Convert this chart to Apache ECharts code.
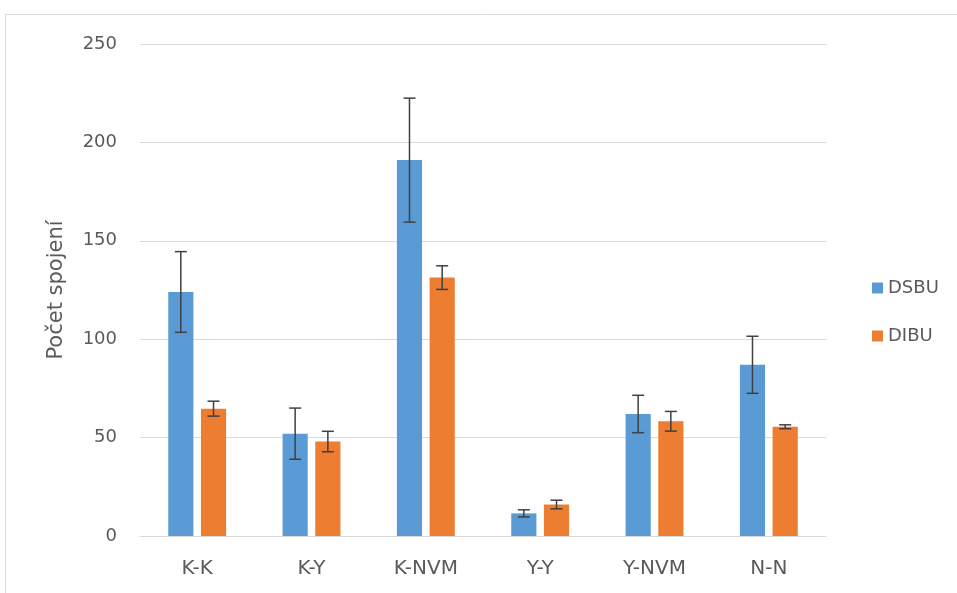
<!DOCTYPE html>
<html>
<head>
<meta charset="utf-8">
<script src="https://cdn.jsdelivr.net/npm/echarts@6/dist/echarts.min.js"></script>
<style>
  html, body { margin: 0; padding: 0; background: #fff; }
  #chart { width: 957px; height: 593px; }
</style>
</head>
<body>
<div id="chart"></div>
<script>
// Connection counts by joint type, mean ± error
const categories = ['K-K', 'K-Y', 'K-NVM', 'Y-Y', 'Y-NVM', 'N-N'];
const dsbuValues = [124, 52, 191, 11.5, 62, 87];
const dsbuErrors = [20.5, 13, 31.5, 1.8, 9.5, 14.5];
const dibuValues = [64.7, 48, 131.3, 16, 58.3, 55.5];
const dibuErrors = [3.8, 5.2, 6, 2.2, 5, 1];
const yTicks = { min: 0, max: 250, interval: 50 };

const BAR_WIDTH = 0.22;   // share of the category band
const BAR_GAP = 0.30;     // gap relative to bar width
const FONT = 'DejaVu Sans, sans-serif';
const TEXT = '#5a5a5a';

function errorSeries(name, values, errors, side) {
  const data = values.map((v, i) => [i, v - errors[i], v + errors[i]]);
  return {
    name: name + ' err',
    type: 'custom',
    z: 5,
    silent: true,
    data: data,
    renderItem: function (params, api) {
      const idx = api.value(0);
      const lo = api.coord([idx, api.value(1)]);
      const hi = api.coord([idx, api.value(2)]);
      const band = api.size([1, 0])[0];
      const bw = band * BAR_WIDTH;
      const x = lo[0] + side * (bw / 2 + bw * BAR_GAP / 2);
      const cap = 6;
      const style = { stroke: '#404040', lineWidth: 1.5 };
      return {
        type: 'group',
        children: [
          { type: 'line', shape: { x1: x, y1: lo[1], x2: x, y2: hi[1] }, style: style },
          { type: 'line', shape: { x1: x - cap, y1: lo[1], x2: x + cap, y2: lo[1] }, style: style },
          { type: 'line', shape: { x1: x - cap, y1: hi[1], x2: x + cap, y2: hi[1] }, style: style }
        ]
      };
    }
  };
}

const chart = echarts.init(document.getElementById('chart'));
chart.setOption({
  animation: false,
  backgroundColor: '#ffffff',
  textStyle: { fontFamily: FONT },
  graphic: [{
    type: 'rect',
    shape: { x: 5.5, y: 14.5, width: 1000, height: 700 },
    style: { fill: 'none', stroke: '#d9d9d9', lineWidth: 1 },
    silent: true,
    z: -10
  }],
  grid: { left: 140, right: 131, top: 44, bottom: 57 },
  legend: {
    orient: 'vertical',
    left: 867,
    top: 274,
    itemWidth: 11,
    itemHeight: 11,
    itemGap: 30,
    icon: 'rect',
    data: ['DSBU', 'DIBU'],
    textStyle: { color: TEXT, fontSize: 18, fontFamily: FONT }
  },
  xAxis: {
    type: 'category',
    data: categories,
    axisLine: { lineStyle: { color: '#d9d9d9', width: 1 } },
    axisTick: { show: false },
    axisLabel: { color: TEXT, fontSize: 20, margin: 23 }
  },
  yAxis: {
    type: 'value',
    min: yTicks.min,
    max: yTicks.max,
    interval: yTicks.interval,
    name: 'Počet spojení',
    nameLocation: 'middle',
    nameGap: 73,
    nameRotate: 90,
    nameTextStyle: { color: TEXT, fontSize: 21 },
    axisLine: { show: false },
    axisTick: { show: false },
    axisLabel: { color: TEXT, fontSize: 18, margin: 23 },
    splitLine: { lineStyle: { color: '#d9d9d9', width: 1 } }
  },
  series: [
    {
      name: 'DSBU', type: 'bar', data: dsbuValues,
      barWidth: (BAR_WIDTH * 100) + '%', barGap: (BAR_GAP * 100) + '%',
      itemStyle: { color: '#5b9bd5' }
    },
    {
      name: 'DIBU', type: 'bar', data: dibuValues,
      barWidth: (BAR_WIDTH * 100) + '%', barGap: (BAR_GAP * 100) + '%',
      itemStyle: { color: '#ed7d31' }
    },
    errorSeries('DSBU', dsbuValues, dsbuErrors, -1),
    errorSeries('DIBU', dibuValues, dibuErrors, 1)
  ]
});
</script>
</body>
</html>
